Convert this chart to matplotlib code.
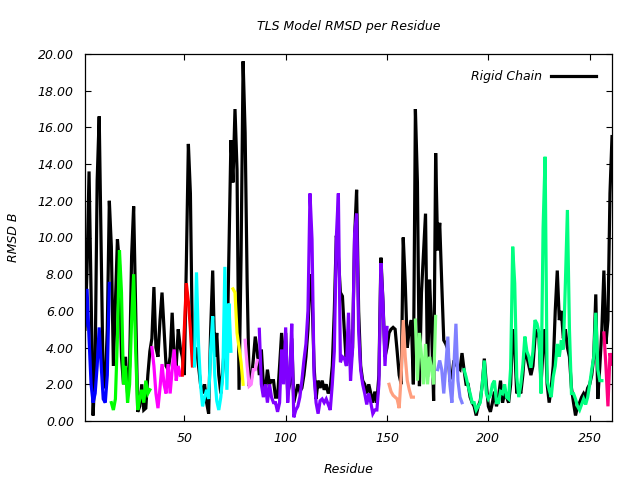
import matplotlib
matplotlib.use("Agg")
import matplotlib.pyplot as plt
import numpy as np

# ---- data -------------------------------------------------------------
first_residue = 1

rigid_1_33 = [5.0, 8.2, 13.6, 7.0, 0.3, 3.0, 13.1, 16.6, 9.0, 1.8, 2.0, 5.0, 12.0, 9.5, 3.0,
              6.5, 9.9, 8.5, 3.5, 2.0, 3.5, 1.5, 3.0, 9.0, 11.7, 6.0, 0.5, 0.8, 2.0, 0.6,
              0.7, 2.5, 3.8]
rigid_34_65 = [4.5, 7.3, 4.0, 3.5, 5.5, 7.0, 5.0, 3.0, 2.8, 3.5, 5.9, 3.5, 3.0, 5.0, 4.0,
               3.5, 2.5, 8.6, 15.1, 12.4, 4.0, 3.5, 4.0, 3.0, 2.0, 1.5, 2.0, 1.0, 0.4, 5.0,
               8.2, 3.5]
rigid_66_97 = [4.8, 2.5, 1.5, 2.8, 4.5, 3.0, 9.1, 15.3, 13.0, 17.0, 13.7, 1.7, 9.0, 19.6,
               15.7, 7.5, 1.9, 2.2, 3.3, 4.6, 3.8, 2.5, 3.9, 2.0, 1.7, 2.8, 2.0, 2.2, 2.2,
               1.3, 1.3, 3.0]
rigid_98_131 = [4.8, 2.5, 4.8, 1.5, 2.0, 4.5, 1.0, 1.5, 2.0, 1.6, 1.8, 2.5, 3.5, 5.0, 8.0,
                7.0, 3.0, 1.2, 2.2, 1.8, 2.2, 1.7, 2.0, 1.5, 1.8, 3.0, 6.0, 10.1, 9.0, 7.0,
                6.8, 4.8, 3.0, 5.0]
rigid_132_163 = [3.0, 4.0, 10.0, 12.6, 6.0, 3.0, 2.2, 2.0, 1.5, 2.0, 1.5, 1.0, 1.6, 1.0,
                 2.5, 8.9, 6.5, 3.5, 4.0, 4.8, 5.0, 5.1, 5.0, 3.8, 2.5, 2.0, 10.0, 7.5, 4.0,
                 5.0, 5.5, 2.0]
rigid_164_196 = [17.0, 13.0, 1.9, 7.0, 9.1, 11.3, 2.4, 7.7, 5.0, 1.1, 14.6, 9.3, 10.8, 7.5,
                 4.4, 4.2, 3.9, 2.3, 2.4, 3.3, 3.1, 2.9, 2.8, 3.7, 2.8, 2.0, 2.0, 1.3, 1.0,
                 0.8, 0.3, 0.8, 1.1]
rigid_197_228 = [2.0, 3.4, 2.0, 0.8, 0.5, 1.0, 1.6, 0.8, 1.3, 2.2, 1.0, 1.5, 1.3, 1.0, 2.0,
                 5.0, 4.0, 1.5, 1.8, 1.5, 2.5, 4.0, 3.5, 3.0, 2.5, 3.0, 4.5, 5.0, 4.5, 2.0,
                 4.0, 5.0]
rigid_229_261 = [2.0, 1.0, 1.8, 3.0, 6.0, 8.2, 5.5, 6.0, 4.5, 5.0, 4.0, 3.5, 1.8, 1.0, 0.3,
                 0.8, 1.0, 1.3, 1.5, 1.3, 1.8, 2.0, 2.5, 3.5, 6.9, 1.2, 3.0, 5.0, 8.2, 4.2,
                 5.5, 12.4, 15.5]

# TLS groups: start residue and RMSD values
tls_starts = [1, 14, 34, 49, 55, 74, 80, 87, 151, 164, 175, 188, 257]
tls_colors = ["#0000ff", "#00ff00", "#ff00ff", "#ff0000", "#00ffff", "#ffff00",
              "#ff80ff", "#8000ff", "#ff9f7f", "#80ff80", "#8080ff", "#00ff80", "#ff0080"]
tls_1 = [5.2, 7.2, 4.5, 2.0, 1.0, 1.5, 3.0, 5.1, 3.0, 1.2, 1.0, 2.5, 7.5]
tls_2 = [1.0, 0.6, 1.2, 4.6, 9.3, 7.0, 2.0, 3.0, 1.0, 2.0, 5.5, 8.0, 3.8, 0.6, 1.2, 1.7,
         1.0, 2.2, 1.5, 1.7]
tls_3 = [4.0, 3.0, 1.5, 0.7, 1.8, 3.1, 2.0, 1.5, 3.1, 1.5, 2.8, 3.9, 2.2, 3.0, 2.5]
tls_4 = [2.5, 5.0, 7.5, 6.5, 5.0, 3.0]
tls_5 = [3.0, 8.1, 4.2, 2.0, 0.8, 1.3, 1.7, 1.2, 3.9, 5.7, 2.5, 1.1, 0.6, 1.3, 2.5, 8.4,
         1.7, 6.4, 3.8]
tls_6 = [7.2, 7.0, 4.8, 4.0, 3.2, 2.0]
tls_7 = [4.4, 3.0, 1.9, 2.0, 2.8, 2.8, 3.3]
tls_8 = [5.0, 2.0, 1.3, 2.0, 1.0, 2.0, 1.3, 1.0, 1.0, 0.5, 1.0, 3.9, 2.0, 5.1, 1.0, 2.5,
         5.3, 0.2, 0.6, 0.8, 1.3, 2.2, 3.3, 4.2, 6.0, 12.4, 9.9, 2.5, 1.0, 0.4, 1.1, 1.2,
         1.0, 1.2, 0.9, 0.6, 2.0, 3.8, 10.0, 12.4, 3.2, 3.5, 3.4, 3.0, 5.9, 2.2, 3.9, 10.2,
         11.3, 4.9, 2.8, 2.0, 1.5, 0.9, 1.5, 1.0, 0.4, 0.6, 0.6, 2.0, 8.6, 6.5, 3.0, 5.1]
tls_9 = [2.0, 1.6, 1.4, 1.3, 1.2, 0.7, 2.5, 5.5, 3.5, 2.2, 1.7, 1.3, 1.3]
tls_10 = [5.5, 2.2, 4.8, 3.6, 2.0, 4.2, 2.0, 3.5, 2.8, 2.0, 5.7]
tls_11 = [2.8, 3.3, 2.8, 1.5, 3.0, 4.6, 2.0, 1.0, 3.0, 5.3, 2.2, 1.3, 1.0]
tls_12 = [2.8, 2.4, 1.9, 1.5, 1.0, 1.0, 0.6, 0.8, 1.0, 2.0, 3.3, 1.5, 1.2, 1.4, 2.0, 2.2,
          1.0, 1.0, 1.6, 1.5, 2.0, 1.3, 1.2, 2.9, 9.5, 7.5, 2.4, 1.3, 2.0, 3.0, 4.6, 3.8,
          3.5, 2.9, 3.8, 5.5, 5.3, 4.8, 1.5, 10.5, 14.4, 2.2, 1.7, 1.3, 2.4, 3.0, 4.2, 3.5,
          4.4, 3.9, 7.5, 11.5, 5.0, 1.5, 1.5, 1.2, 0.8, 0.6, 0.9, 1.2, 0.9, 1.3, 2.0, 2.8,
          3.5, 5.9, 2.8, 2.2, 2.2]
tls_13 = [4.8, 3.0, 0.8, 3.7, 3.1]
tls_values = [tls_1, tls_2, tls_3, tls_4, tls_5, tls_6, tls_7, tls_8, tls_9, tls_10,
              tls_11, tls_12, tls_13]

y_ticks = [0, 2, 4, 6, 8, 10, 12, 14, 16, 18, 20]
x_ticks = [50, 100, 150, 200, 250]

# ---- plot -------------------------------------------------------------
rigid = (rigid_1_33 + rigid_34_65 + rigid_66_97 + rigid_98_131 + rigid_132_163
         + rigid_164_196 + rigid_197_228 + rigid_229_261)
res = np.arange(first_residue, first_residue + len(rigid))

FONT = "DejaVu Sans"
fs = 9

fig = plt.figure(figsize=(6.4, 4.8), dpi=100)
ax = fig.add_axes([85 / 640, 59 / 480, 527 / 640, 367 / 480])

ax.plot(res, rigid, color="black", lw=2.3, label="Rigid Chain", solid_joinstyle="miter")
for start, vals, col in zip(tls_starts, tls_values, tls_colors):
    r = np.arange(start, start + len(vals))
    ax.plot(r, vals, color=col, lw=2.3, solid_joinstyle="miter")

ax.set_xlim(res[0], res[-1])
ax.set_ylim(0, 20)
ax.set_xticks(x_ticks)
ax.set_yticks(y_ticks)
ax.set_yticklabels([f"{v:.2f}" for v in y_ticks], fontstyle="italic", family=FONT, fontsize=fs)
ax.set_xticklabels([str(v) for v in x_ticks], fontstyle="italic", family=FONT, fontsize=fs)
ax.tick_params(direction="in", top=True, right=True, length=4, width=0.8, pad=8)
for s in ax.spines.values():
    s.set_linewidth(0.9)

ax.set_title("TLS Model RMSD per Residue", fontstyle="italic", family=FONT, fontsize=fs, pad=17)
ax.set_xlabel("Residue", fontstyle="italic", family=FONT, fontsize=fs, labelpad=13)
ax.set_ylabel("RMSD B", fontstyle="italic", family=FONT, fontsize=fs, labelpad=13)

leg = ax.legend(loc="upper right", frameon=False, markerfirst=False, handlelength=3.6,
                prop={"family": FONT, "style": "italic", "size": fs},
                borderaxespad=0.9, handletextpad=0.7)

fig.savefig("out.png", dpi=100)
